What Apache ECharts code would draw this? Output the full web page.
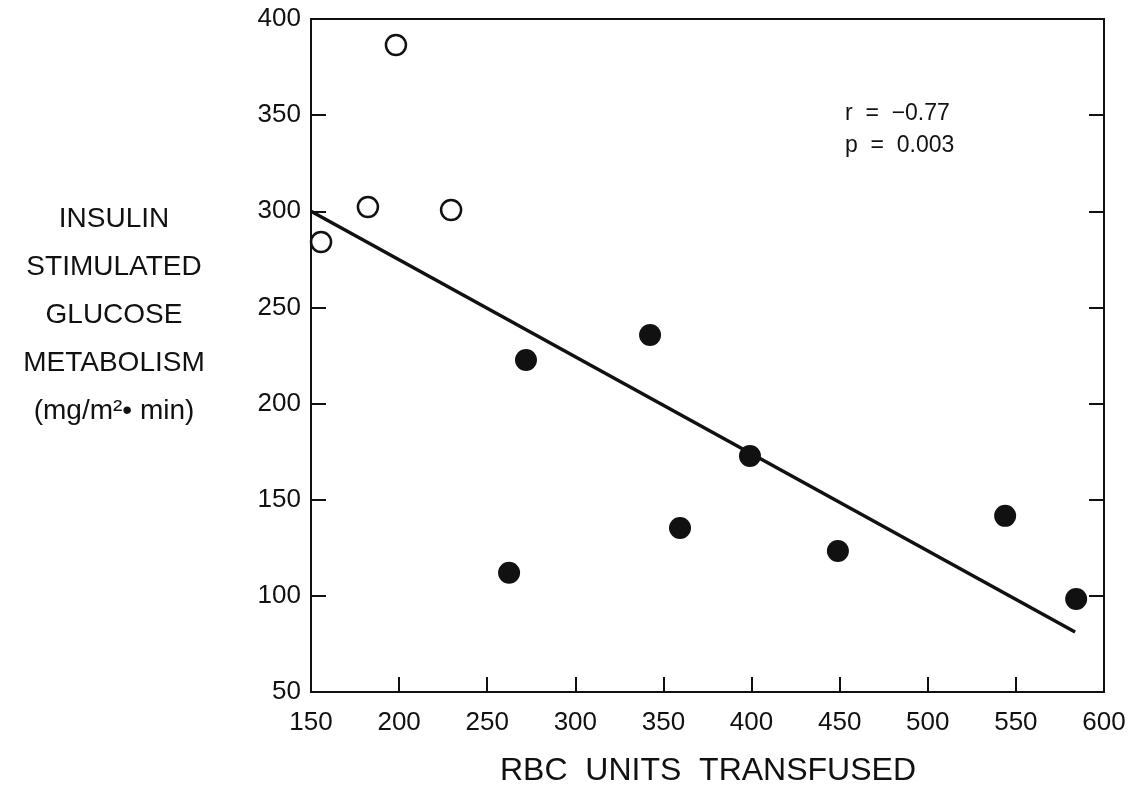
<!DOCTYPE html>
<html><head><meta charset="utf-8">
<script src="https://cdn.jsdelivr.net/npm/echarts@6/dist/echarts.min.js"></script>
<style>html,body{margin:0;padding:0;background:#fff}#c{width:1139px;height:785px}</style>
</head><body><div id="c"></div>
<script>
const xTicks = [150,200,250,300,350,400,450,500,550,600];
const yTicks = [50,100,150,200,250,300,350,400];
const openPoints = [[155.7,284],[182.3,302.2],[198.2,386.5],[229.5,300.7]];
const filledPoints = [[262.4,112],[272,222.7],[342.4,235.7],[359.4,135.3],[399.1,172.7],[449,123.3],[543.9,141.6],[584.2,98.4]];
const fitLine = [[150,300],[583.6,81.2]];
const xTitle = 'RBC  UNITS  TRANSFUSED';
const yTitleLines = ['INSULIN','STIMULATED','GLUCOSE','METABOLISM','(mg/m²\u2022 min)'];
const statLines = ['r  =  \u22120.77','p  =  0.003'];

const FONT = '"Liberation Sans", Arial, sans-serif';
const INK = '#111';
const chart = echarts.init(document.getElementById('c'), null, {renderer:'canvas'});
chart.setOption({
  animation: false,
  backgroundColor: '#fff',
  grid: {left: 311, right: 35, top: 19, bottom: 93, show: true, borderColor: INK, borderWidth: 2},
  xAxis: [{
    type: 'value', min: xTicks[0], max: xTicks[xTicks.length-1], interval: 50,
    axisLine: {show: true, lineStyle: {color: INK, width: 2}},
    axisTick: {show: true, inside: true, length: 15, lineStyle: {color: INK, width: 2}},
    axisLabel: {color: INK, fontSize: 26, fontFamily: FONT, margin: 18},
    splitLine: {show: false}
  }],
  yAxis: [{
    type: 'value', min: yTicks[0], max: yTicks[yTicks.length-1], interval: 50,
    axisLine: {show: true, lineStyle: {color: INK, width: 2}},
    axisTick: {show: true, inside: true, length: 15, lineStyle: {color: INK, width: 2}},
    axisLabel: {color: INK, fontSize: 26, fontFamily: FONT, margin: 10, padding: [5, 0, 0, 0]},
    splitLine: {show: false}
  },{
    type: 'value', position: 'right', min: yTicks[0], max: yTicks[yTicks.length-1], interval: 50,
    axisLine: {show: true, lineStyle: {color: INK, width: 2}},
    axisTick: {show: true, inside: true, length: 15, lineStyle: {color: INK, width: 2}},
    axisLabel: {show: false},
    splitLine: {show: false}
  }],
  graphic: [
    {type: 'text', x: 708, y: 771, style: {text: xTitle, font: '32px ' + FONT, fill: INK, textAlign: 'center', textVerticalAlign: 'middle'}},
    ...yTitleLines.map((t, i) => ({type: 'text', x: 114, y: 219 + i * 48, style: {text: t, font: '28px ' + FONT, fill: INK, textAlign: 'center', textVerticalAlign: 'middle'}})),
    ...statLines.map((t, i) => ({type: 'text', x: 845, y: 114 + i * 32, style: {text: t, font: '23px ' + FONT, fill: INK, textAlign: 'left', textVerticalAlign: 'middle'}}))
  ],
  series: [
    {type: 'line', data: fitLine, symbol: 'none', lineStyle: {color: INK, width: 3.5}, z: 2},
    {type: 'scatter', data: openPoints, symbol: 'circle', symbolSize: 20, itemStyle: {color: '#fff', borderColor: INK, borderWidth: 2.5, opacity: 1}, z: 3},
    {type: 'scatter', data: filledPoints, symbol: 'circle', symbolSize: 22, itemStyle: {color: INK, opacity: 1}, z: 3}
  ]
});
</script></body></html>
